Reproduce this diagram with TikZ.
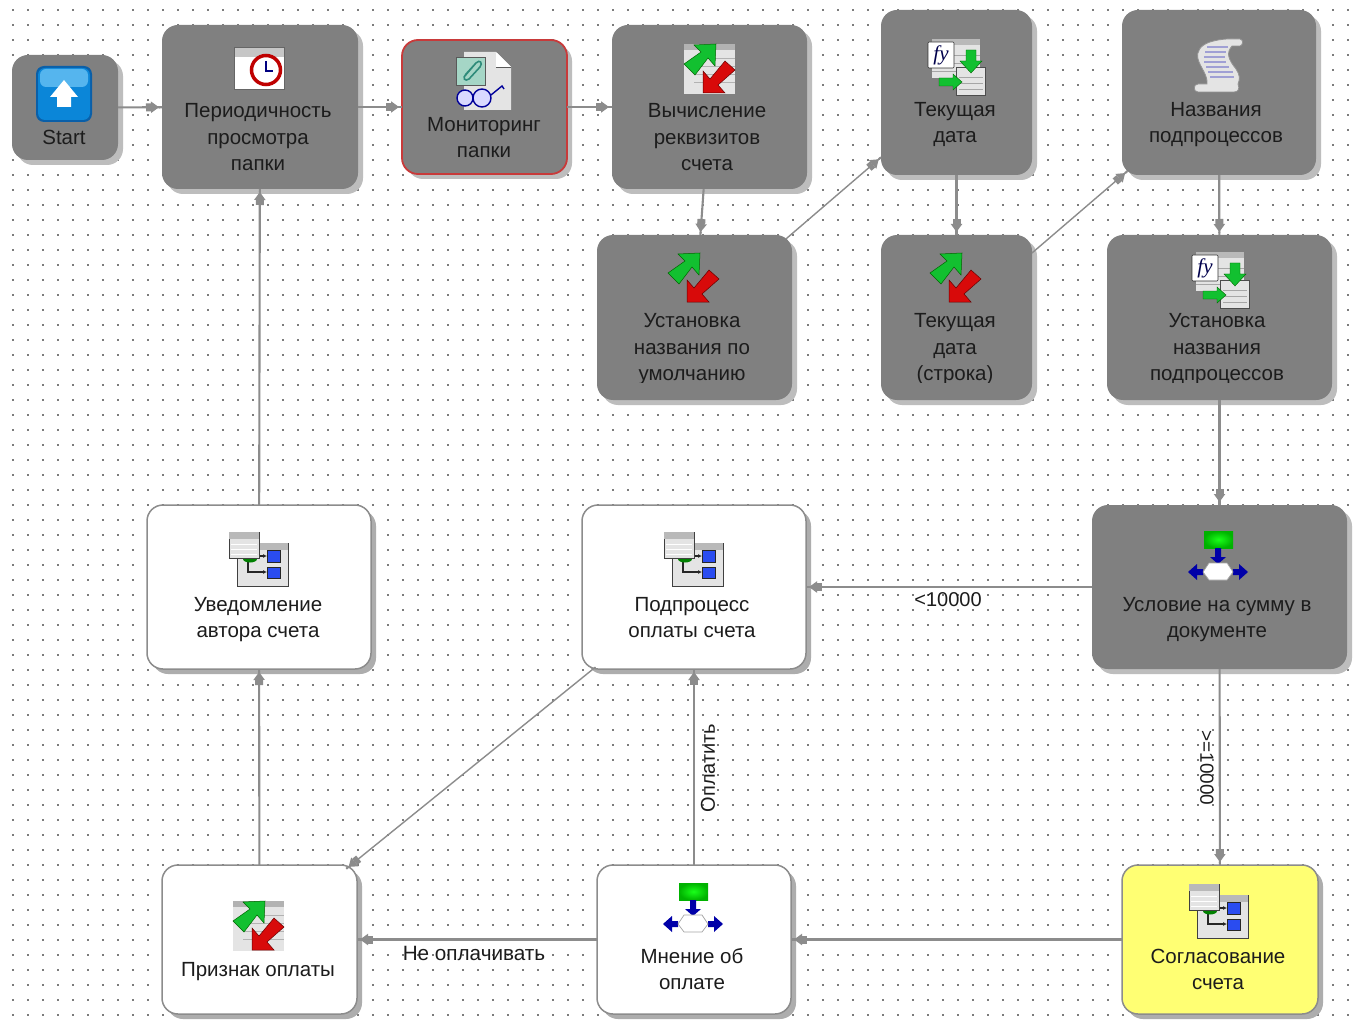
\documentclass[tikz,border=0pt]{standalone}
\usepackage{fontspec}
\setmainfont{Liberation Sans}
\newfontfamily\iconserif{Liberation Serif}
\usetikzlibrary{arrows.meta,shadows,calc}
\definecolor{boxgray}{HTML}{808080}
\definecolor{shadowlight}{HTML}{BDBDBD}
\definecolor{shadowdark}{HTML}{ADADAD}
\definecolor{linegray}{HTML}{8C8C8C}
\definecolor{dotgray}{HTML}{7C7C7C}
\definecolor{noteyellow}{HTML}{FFFF73}
\definecolor{redline}{HTML}{C83A3A}
\definecolor{txt}{HTML}{1C1C1C}
\definecolor{icopaper}{HTML}{E4E4E4}
\definecolor{icogreen}{HTML}{12C030}
\definecolor{icored}{HTML}{D80A0A}
\definecolor{icoblue}{HTML}{0000A8}
\definecolor{icosq}{HTML}{2A4CF0}
\definecolor{startedge}{HTML}{0A5FA8}
\definecolor{startbody}{HTML}{0B86D8}
\definecolor{starthigh}{HTML}{55B5EE}
\definecolor{cardgreen}{HTML}{A5D6C6}
\definecolor{clipteal}{HTML}{2E8B7A}
\definecolor{scrollline}{HTML}{A0A0D4}
\tikzset{
  basebox/.style={rectangle,rounded corners=16pt,inner sep=0pt,outer sep=0pt,
    drop shadow={shadow xshift=5pt,shadow yshift=-5pt,opacity=1,fill=shadowlight}},
  darkshadowbox/.style={rectangle,rounded corners=16pt,inner sep=0pt,outer sep=0pt,
    drop shadow={shadow xshift=5pt,shadow yshift=-5pt,opacity=1,fill=shadowdark}},
  graybox/.style={basebox,fill=boxgray},
  redbox/.style={basebox,fill=boxgray,draw=redline,line width=1.8pt},
  whitebox/.style={darkshadowbox,fill=white,draw=linegray,line width=1.5pt},
  yellowbox/.style={darkshadowbox,fill=noteyellow,draw=linegray,line width=1.5pt},
  lbl/.style={align=center,inner sep=0pt,text=txt,font=\fontsize{20.5}{26.5}\selectfont},
  elbl/.style={inner sep=0pt,text=txt,font=\fontsize{20}{24}\selectfont},
  conn/.style={draw=linegray,line width=2.1pt,
    -{Rectangle[length=5pt,width=8pt]Triangle[length=8pt,width=11pt]Rectangle[length=3pt,width=2.1pt]}},
  connthin/.style={conn,line width=1.4pt},
  pics/clockico/.style={code={
    \fill[white] (-25,-23) rectangle (25,19);
    \fill[gray!45] (-25,-23) rectangle (25,-13);
    \draw[gray!80!black,line width=.8pt] (-25,-23) rectangle (25,19);
    \draw[draw=red!75!black,fill=white,line width=3.5pt] (7,0) circle (14.5);
    \draw[blue!50!black,line width=1.2pt] (7,-9) -- (7,1) -- (14,1);
  }},
  pics/startico/.style={code={
    \fill[rounded corners=8pt,fill=startedge] (-28,-28) rectangle (28,28);
    \fill[rounded corners=7pt,fill=startbody] (-26,-26) rectangle (26,26);
    \fill[rounded corners=6pt,fill=starthigh] (-24,-25) rectangle (24,-7);
    \fill[white] (0,-14) -- (14,3) -- (7,3) -- (7,13) -- (-7,13) -- (-7,3) -- (-14,3) -- cycle;
  }},
  pics/monico/.style={code={
    \fill[icopaper] (-20,-29) -- (12,-29) -- (27,-14) -- (27,29) -- (-20,29) -- cycle;
    \draw[gray!70!black,line width=.6pt] (12,-29) -- (12,-14) -- (27,-14);
    \fill[white] (12,-29) -- (12,-14) -- (27,-14) -- cycle;
    \draw[gray!70!black,line width=.8pt,fill=cardgreen] (-28,-24) rectangle (1,4);
    \draw[clipteal,line width=1.6pt] (-20,-4) -- (-8,-18) .. controls (-4,-22) and (-1,-18) .. (-4,-14) -- (-15,-2) .. controls (-19,1) and (-22,-3) .. (-18,-7) -- (-8,-18);
    \draw[blue!60!black,line width=1.4pt,fill=blue!15!white] (-19,17) circle (8);
    \draw[blue!60!black,line width=1.4pt,fill=blue!15!white] (-2,17) circle (9);
    \draw[blue!60!black,line width=1.4pt] (7,14) -- (18,5) -- (20,8);
  }},
  pics/arrowsico/.style={code={
    \fill[icogreen,draw=green!40!black,line width=.5pt] (-15,-23) -- (7,-24) -- (6,-2) -- (-1,-10) -- (-14,7) -- (-25,-4) -- (-8,-16) -- cycle;
    \fill[icored,draw=red!40!black,line width=.5pt] (-6,25) -- (-6,3) -- (1,11) -- (16,-7) -- (26,2) -- (9,17) -- (16,25) -- cycle;
  }},
  pics/papers/.style={code={
    \fill[icopaper] (-25,-24) rectangle (26,26);
    \draw[gray!60,line width=.8pt] (-15,-10) -- (26,-10) (-15,-2) -- (26,-2) (-15,6) -- (26,6) (-15,14) -- (26,14);
    \fill[gray!60] (-25,-24) rectangle (26,-18);
  }},
  pics/fxico/.style={code={
    \fill[gray!55] (-24,-28) rectangle (24,11);
    \fill[icopaper] (-24,-22) rectangle (24,11);
    \draw[gray!70,line width=.6pt] (-24,-12) -- (24,-12) (-24,-4) -- (24,-4) (-24,4) -- (24,4);
    \fill[icopaper,draw=gray!60!black,line width=.8pt] (0,0) rectangle (29,28);
    \draw[gray!70,line width=.6pt] (3,10) -- (27,10) (3,16) -- (27,16) (3,22) -- (27,22);
    \fill[white,draw=gray!40!black,line width=.6pt,rounded corners=1pt] (-28,-25) rectangle (-2,1);
    \node[inner sep=0pt,text=blue!30!black] at (-15,-12) {\iconserif\itshape\fontsize{21}{21}\selectfont fy};
    \fill[icogreen,draw=green!40!black,line width=.4pt] (10,-17) -- (20,-17) -- (20,-6) -- (26,-6) -- (15,6) -- (4,-6) -- (10,-6) -- cycle;
    \fill[icogreen,draw=green!40!black,line width=.4pt] (-17,11) -- (-3,11) -- (-3,7) -- (6,15) -- (-3,23) -- (-3,19) -- (-17,19) -- cycle;
  }},
  pics/scrollico/.style={code={
    \fill[icopaper,draw=gray!85,line width=.8pt] (-8,-23) .. controls (5,-27) and (15,-26) .. (22,-26) .. controls (26,-25) and (25,-20) .. (22,-19) -- (14,-19)
      .. controls (8,-12) and (10,-6) .. (18,4) .. controls (22,10) and (22,14) .. (20,19)
      .. controls (22,24) and (20,27) .. (16,27) -- (-20,27) .. controls (-25,27) and (-25,19) .. (-20,19) -- (-11,19)
      .. controls (-10,10) and (-18,2) .. (-20,-6) .. controls (-22,-14) and (-17,-20) .. (-8,-23) -- cycle;
    \draw[scrollline,line width=1.5pt] (-11,-18) -- (10,-18) (-13,-13) -- (8,-13) (-14,-8) -- (7,-8) (-14,-3) -- (8,-3) (-12,2) -- (11,2) (-10,7) -- (15,7) (-8,12) -- (16,12);
  }},
  pics/subico/.style={code={
    \fill[icopaper,draw=gray!50!black,line width=1pt] (-21,-16) rectangle (30,27);
    \fill[gray!55] (-21,-16) rectangle (30,-9);
    \draw[gray!30!black,line width=1.2pt,->,>={Latex[length=4pt,width=4pt]}] (-10,0) -- (-10,13) -- (9,13);
    \draw[gray!30!black,line width=1.2pt,->,>={Latex[length=4pt,width=4pt]}] (-10,-3) -- (9,-3);
    \fill[green!50!black] (-8,0) ellipse (7 and 3.5);
    \fill[icosq,draw=gray!30!black,line width=.7pt] (9,-9) rectangle (22,3);
    \fill[icosq,draw=gray!30!black,line width=.7pt] (9,8) rectangle (22,19);
    \fill[icopaper,draw=gray!50!black,line width=1pt] (-29,-27) rectangle (1,-1);
    \fill[gray!55] (-29,-27) rectangle (1,-20);
    \draw[white,line width=.7pt] (-27,-15) -- (-1,-15) (-27,-10) -- (-1,-10) (-27,-5) -- (-1,-5);
  }},
  pics/condico/.style={code={
    \shade[inner color=green!90!white,outer color=green!70!black] (-14,-27) rectangle (15,-10);
    \fill[icoblue] (-3,-10) -- (3,-10) -- (3,-1) -- (8,-1) -- (0,6) -- (-8,-1) -- (-3,-1) -- cycle;
    \fill[icoblue] (-15,11) -- (-21,11) -- (-21,6) -- (-30,14) -- (-21,22) -- (-21,17) -- (-15,17) -- cycle;
    \fill[icoblue] (15,11) -- (21,11) -- (21,6) -- (30,14) -- (21,22) -- (21,17) -- (15,17) -- cycle;
    \fill[white,draw=gray!70,line width=.7pt] (-15,14) -- (-9,5) -- (9,5) -- (15,14) -- (9,22) -- (-9,22) -- cycle;
  }},
}
\begin{document}
\begin{tikzpicture}[x=1pt,y=-1pt]
\useasboundingbox (0,0) rectangle (1354,1024);
\fill[white] (0,0) rectangle (1354,1024);
% dotted grid
\foreach \gx in {0,...,89}{\foreach \gy in {0,...,67}{
  \fill[dotgray] ({12.2+15*\gx},{9.3+15*\gy}) rectangle ++(1.4,1.4);}}
% boxes
\node[graybox,minimum width=106pt,minimum height=105pt] (start) at (65,107.5) {};
\node[graybox,minimum width=196pt,minimum height=164pt] (period) at (260,107) {};
\node[redbox,minimum width=165pt,minimum height=134pt] (monitor) at (484.5,107) {};
\node[graybox,minimum width=195pt,minimum height=164pt] (calc) at (709.5,107) {};
\node[graybox,minimum width=151pt,minimum height=165pt] (today) at (956.5,92.5) {};
\node[graybox,minimum width=194pt,minimum height=165pt] (names) at (1219,92.5) {};
\node[graybox,minimum width=195pt,minimum height=165pt] (setdef) at (694.5,317.5) {};
\node[graybox,minimum width=151pt,minimum height=165pt] (todaystr) at (956.5,317.5) {};
\node[graybox,minimum width=225pt,minimum height=165pt] (setnames) at (1219.5,317.5) {};
\node[whitebox,minimum width=224pt,minimum height=164pt] (notify) at (259,587) {};
\node[whitebox,minimum width=224pt,minimum height=164pt] (payproc) at (694,587) {};
\node[graybox,minimum width=255pt,minimum height=164pt] (cond) at (1219.5,587) {};
\node[whitebox,minimum width=195pt,minimum height=149pt] (flag) at (259.5,939.5) {};
\node[whitebox,minimum width=194pt,minimum height=149pt] (opinion) at (694,939.5) {};
\node[yellowbox,minimum width=196pt,minimum height=149pt] (approve) at (1220,939.5) {};
% connectors
\draw[conn] (start) -- (period);
\draw[conn] (period) -- (monitor);
\draw[conn] (monitor) -- (calc);
\draw[conn] (calc) -- (setdef);
\draw[connthin,shorten <=-6pt] (setdef) -- (today);
\draw[conn] (today) -- (todaystr);
\draw[connthin,shorten >=-6pt] (todaystr) -- (names);
\draw[conn] (names) -- (setnames);
\draw[conn] (setnames) -- (cond);
\draw[conn] (cond) -- (payproc);
\draw[conn] (cond) -- (approve);
\draw[conn] (approve) -- (opinion);
\draw[conn] (opinion) -- (payproc);
\draw[conn] (opinion) -- (flag);
\draw[connthin,shorten >=-6pt,shorten <=-3pt] (payproc) -- (flag);
\draw[conn] (flag) -- (notify);
\draw[conn] (notify) -- (period);
% connector labels
\node[elbl] (lless) at (948,600) {<10000};
\node[elbl,font=\fontsize{19}{24}\selectfont,rotate=-90] (lmore) at (1207,768) {>=10000};
\node[elbl,rotate=90] (lpay) at (708,768) {Оплатить};
\node[elbl,font=\fontsize{20.7}{24}\selectfont] (lnopay) at (474,953) {Не оплачивать};
% icons
\pic at (64,94) {startico};
\pic at (259,70) {clockico};
\pic at (484,81) {monico};
\pic at (709,68) {papers};
\pic at (709,68) {arrowsico};
\pic at (956,67) {fxico};
\pic at (1218,65) {scrollico};
\pic at (693,277) {arrowsico};
\pic at (955,277) {arrowsico};
\pic at (1220,280) {fxico};
\pic at (258,559) {subico};
\pic at (693,559) {subico};
\pic at (1218,558) {condico};
\pic at (258,925) {papers};
\pic at (258,925) {arrowsico};
\pic at (693,910) {condico};
\pic at (1218,911) {subico};
% box texts
\node[lbl] (tstart) at (64,139) {\strut Start};
\node[lbl] (tperiod) at (258,139) {\strut Периодичность\\\strut просмотра\\\strut папки};
\node[lbl] (tmonitor) at (484,139) {\strut Мониторинг\\\strut папки};
\node[lbl] (tcalc) at (707,139) {\strut Вычисление\\\strut реквизитов\\\strut счета};
\node[lbl] (ttoday) at (955,124) {\strut Текущая\\\strut дата};
\node[lbl] (tnames) at (1216,124) {\strut Названия\\\strut подпроцессов};
\begin{scope}
\clip (0,0) rectangle (1354,382);
\node[lbl] (tsetdef) at (692,349) {\strut Установка\\\strut названия по\\\strut умолчанию};
\node[lbl] (ttodaystr) at (955,349) {\strut Текущая\\\strut дата\\\strut (строка)};
\node[lbl] (tsetnames) at (1217,349) {\strut Установка\\\strut названия\\\strut подпроцессов};
\end{scope}
\node[lbl] (tnotify) at (258,619) {\strut Уведомление\\\strut автора счета};
\node[lbl] (tpayproc) at (692,619) {\strut Подпроцесс\\\strut оплаты счета};
\node[lbl] (tcond) at (1217,619) {\strut Условие на сумму в\\\strut документе};
\node[lbl] (tflag) at (258,971) {\strut Признак оплаты};
\node[lbl] (topinion) at (692,971) {\strut Мнение об\\\strut оплате};
\node[lbl] (tapprove) at (1218,971) {\strut Согласование\\\strut счета};
\end{tikzpicture}
\end{document}
